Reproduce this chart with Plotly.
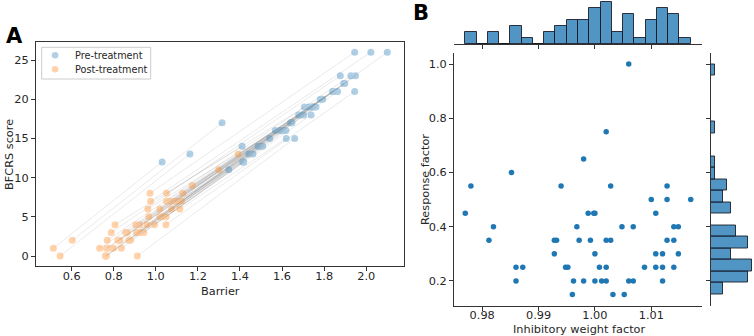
import numpy as np
import plotly.graph_objects as go

# ---------------- Panel A data ----------------
pre_barrier = [1.945, 2.022, 2.100,
               1.877, 1.927, 1.949,
               1.893, 1.898, 1.895,
               1.840, 1.845, 1.864, 1.945, 1.842,
               1.782, 1.793,
               1.706, 1.727, 1.742, 1.750, 1.761, 1.745,
               1.679, 1.690, 1.703, 1.738,
               1.315, 1.640, 1.647, 1.645,
               1.568, 1.592, 1.611, 1.618,
               1.541, 1.620, 1.660,
               1.410, 1.486, 1.497, 1.508, 1.500,
               1.162, 1.442, 1.462,
               1.030, 1.413, 1.418, 1.415,
               1.347]
pre_score = [26, 26, 26,
             23, 23, 23,
             22, 22, 22,
             21, 21, 21, 21, 21,
             20, 20,
             19, 19, 19, 19, 19, 19,
             18, 18, 18, 18,
             17, 17, 17, 17,
             16, 16, 16, 16,
             15, 15, 15,
             14, 14, 14, 14, 14,
             13, 13, 13,
             12, 12, 12, 12,
             11]

post_barrier = [0.545, 0.761, 0.761, 0.765, 0.912,
                0.513, 0.733, 0.766, 0.772, 0.798, 0.836,
                0.603, 0.769, 0.820, 0.829, 0.872, 0.880,
                0.788, 0.856, 0.864, 0.908, 0.915, 0.925, 0.943,
                0.806, 0.905, 0.924, 0.959, 0.994, 1.048,
                0.967, 1.019, 1.030, 1.049,
                0.962, 1.019, 1.075, 1.114,
                0.975, 1.051, 1.070, 1.089, 1.102, 1.122,
                0.972, 1.051, 1.128,
                1.173,
                1.299,
                1.391]
post_score = [0, 0, 0, 0, 0,
              1, 1, 1, 1, 1, 1,
              2, 2, 2, 2, 2, 2,
              3, 3, 3, 3, 3, 3, 3,
              4, 4, 4, 4, 4, 4,
              5, 5, 5, 5,
              6, 6, 6, 6,
              7, 7, 7, 7, 7, 7,
              8, 8, 8,
              9,
              11,
              13]

a_xticks = [0.6, 0.8, 1.0, 1.2, 1.4, 1.6, 1.8, 2.0]
a_yticks = [0, 5, 10, 15, 20, 25]
legend_labels = ["Pre-treatment", "Post-treatment"]

# ---------------- Panel B data ----------------
inhib_weight = [0.977, 0.978, 0.9812, 0.982, 0.9852, 0.986, 0.986, 0.9872,
                0.9928, 0.9928, 0.9932, 0.994, 0.9948, 0.9952, 0.996, 0.9968,
                0.9972, 0.998, 0.998, 0.9988, 0.9992,
                1.000, 1.000, 1.000, 0.9998, 1.0008, 1.0012,
                1.002, 1.002, 1.002, 1.002, 1.0028, 1.0028, 1.0032,
                1.0048, 1.0052, 1.006, 1.006, 1.0068, 1.0068, 1.0088,
                1.010, 1.0108, 1.0108, 1.0108, 1.012, 1.012, 1.012,
                1.0128, 1.0128, 1.0128, 1.014, 1.014, 1.014, 1.0148, 1.0148,
                1.017, 0.9962]
response = [0.45, 0.55, 0.35, 0.40, 0.60, 0.25, 0.20, 0.25,
            0.35, 0.30, 0.35, 0.55, 0.25, 0.25, 0.15, 0.40,
            0.35, 0.65, 0.20, 0.45, 0.35,
            0.45, 0.30, 0.20, 0.45, 0.25, 0.20,
            0.75, 0.35, 0.25, 0.20, 0.55, 0.35, 0.15,
            0.40, 0.15, 1.00, 0.20, 0.40, 0.20, 0.25,
            0.50, 0.45, 0.30, 0.25, 0.30, 0.25, 0.20,
            0.55, 0.50, 0.35, 0.40, 0.35, 0.25, 0.40, 0.30,
            0.50, 0.20]

b_xticks = [0.98, 0.99, 1.00, 1.01]
b_yticks = [0.2, 0.4, 0.6, 0.8, 1.0]

BLUE = "#1f77b4"
ORANGE = "#ff7f0e"
FONT = "DejaVu Sans"
SPINE = "#333333"
TXT = "#262626"
W, H = 754, 336

fig = go.Figure()

# pairing lines (pre -> post), paired by rank of offset from the common trend
pre_b = np.array(pre_barrier); pre_s = np.array(pre_score, float)
post_b = np.array(post_barrier); post_s = np.array(post_score, float)
oi = np.argsort(pre_s - 20 * pre_b)
oj = np.argsort(post_s - 20 * post_b)
lx, ly = [], []
for i, j in zip(oi, oj):
    lx += [pre_b[i], post_b[j], None]
    ly += [pre_s[i], post_s[j], None]
fig.add_trace(go.Scatter(x=lx, y=ly, mode="lines", xaxis="x", yaxis="y",
                         line=dict(color="rgba(140,140,140,0.18)", width=1),
                         showlegend=False, hoverinfo="skip"))
fig.add_trace(go.Scatter(x=pre_barrier, y=pre_score, mode="markers", name=legend_labels[0],
                         xaxis="x", yaxis="y", opacity=0.35, showlegend=False,
                         marker=dict(color=BLUE, size=7, line=dict(width=0))))
fig.add_trace(go.Scatter(x=post_barrier, y=post_score, mode="markers", name=legend_labels[1],
                         xaxis="x", yaxis="y", opacity=0.35, showlegend=False,
                         marker=dict(color=ORANGE, size=7, line=dict(width=0))))

# Panel B joint scatter
fig.add_trace(go.Scatter(x=inhib_weight, y=response, mode="markers", xaxis="x2", yaxis="y2",
                         marker=dict(color=BLUE, size=5.5, line=dict(width=0)), showlegend=False))

# marginal histograms (20 bins, like seaborn's auto choice)
cx, ex = np.histogram(np.array(inhib_weight), bins=20)
cy, ey = np.histogram(np.array(response), bins=20)
HFILL = "rgba(31,119,180,0.78)"
HEDGE = "rgba(20,20,30,0.85)"
fig.add_trace(go.Bar(x=(ex[:-1] + ex[1:]) / 2, y=cx, width=np.diff(ex), xaxis="x3", yaxis="y3",
                     marker=dict(color=HFILL, line=dict(color=HEDGE, width=1)), showlegend=False))
fig.add_trace(go.Bar(y=(ey[:-1] + ey[1:]) / 2, x=cy, width=np.diff(ey), orientation="h",
                     xaxis="x4", yaxis="y4",
                     marker=dict(color=HFILL, line=dict(color=HEDGE, width=1)), showlegend=False))

def px_x(p):
    return p / W

def px_y(p):
    return 1 - p / H

tickfont = dict(family=FONT, size=11.3, color=TXT)
common = dict(showgrid=False, zeroline=False, showline=True, linecolor=SPINE, linewidth=1,
              ticks="outside", ticklen=4, tickwidth=1, tickcolor=SPINE, tickfont=tickfont)
common_nolab = {k: v for k, v in common.items() if k != "tickfont"}

# x-range of panel B from data extent + 5% margin (matplotlib style)
xmin, xmax = min(inhib_weight), max(inhib_weight)
xm = 0.05 * (xmax - xmin)
ymin, ymax = min(response), max(response)
ym = 0.05 * (ymax - ymin)

fig.update_layout(
    width=W, height=H, margin=dict(l=0, r=0, t=0, b=0),
    paper_bgcolor="white", plot_bgcolor="rgba(0,0,0,0)",
    font=dict(family=FONT, size=11.3, color=TXT),
    bargap=0, showlegend=False,
    xaxis=dict(domain=[px_x(36), px_x(404)], range=[0.4305, 2.1795], mirror=True,
               tickvals=a_xticks, tickformat=".1f", anchor="y", ticklabelstandoff=-5, **common),
    yaxis=dict(domain=[px_y(266.2), px_y(42)], range=[-1.3, 27.3], mirror=True,
               tickvals=a_yticks, anchor="x", **common),
    xaxis2=dict(domain=[px_x(454), px_x(702)], range=[xmin - xm, xmax + xm],
                tickvals=b_xticks, tickformat=".2f", anchor="y2", ticklabelstandoff=-6, **common),
    yaxis2=dict(domain=[px_y(306), px_y(52.5)], range=[ymin - ym, ymax + ym],
                tickvals=b_yticks, tickformat=".1f", anchor="x2", **common),
    xaxis3=dict(domain=[px_x(454), px_x(702)], matches="x2", anchor="y3",
                tickvals=b_xticks, showticklabels=False, **common_nolab),
    yaxis3=dict(domain=[px_y(44), 1.0], range=[0, max(cx) * 1.05], anchor="x3", visible=False),
    xaxis4=dict(domain=[px_x(711), 1.0], range=[0, max(cy) * 1.05], anchor="y4", visible=False),
    yaxis4=dict(domain=[px_y(306), px_y(52.5)], matches="y2", anchor="x4",
                tickvals=b_yticks, showticklabels=False, **common_nolab),
)

# legend (drawn compactly, matplotlib style)
fig.add_shape(type="rect", xref="paper", yref="paper",
              x0=px_x(41.7), x1=px_x(150.7), y0=px_y(79), y1=px_y(47.3),
              line=dict(color="#cccccc", width=1), fillcolor="rgba(255,255,255,0.8)", layer="above")
for k, (lab, col) in enumerate(zip(legend_labels, [BLUE, ORANGE])):
    cy_px = 55.2 + 14.1 * k
    fig.add_shape(type="circle", xref="paper", yref="paper",
                  x0=px_x(51.8), x1=px_x(58.4), y0=px_y(cy_px + 3.3), y1=px_y(cy_px - 3.3),
                  line=dict(width=0), fillcolor=col, opacity=0.35, layer="above")
    fig.add_annotation(xref="paper", yref="paper", x=px_x(73), y=px_y(cy_px), text=lab,
                       showarrow=False, xanchor="left", yanchor="middle",
                       font=dict(family=FONT, size=9.7, color=TXT))

ann = [
    dict(text="Barrier", x=px_x(220), y=px_y(291)),
    dict(text="BFCRS score", x=px_x(9), y=px_y(155), textangle=-90),
    dict(text="Inhibitory weight factor", x=px_x(579), y=px_y(329)),
    dict(text="Response factor", x=px_x(425), y=px_y(180), textangle=-90),
    dict(text="<b>A</b>", x=px_x(14), y=px_y(36), font=dict(family=FONT, size=21, color="black")),
    dict(text="<b>B</b>", x=px_x(421), y=px_y(13), font=dict(family=FONT, size=21, color="black")),
]
for a in ann:
    a.setdefault("font", dict(family=FONT, size=11.3, color=TXT))
    fig.add_annotation(xref="paper", yref="paper", showarrow=False,
                       xanchor="center", yanchor="middle", **a)

fig.write_html("out.html", config={"displayModeBar": False},
               post_script="document.body.style.margin='0';document.body.style.overflow='hidden';")
